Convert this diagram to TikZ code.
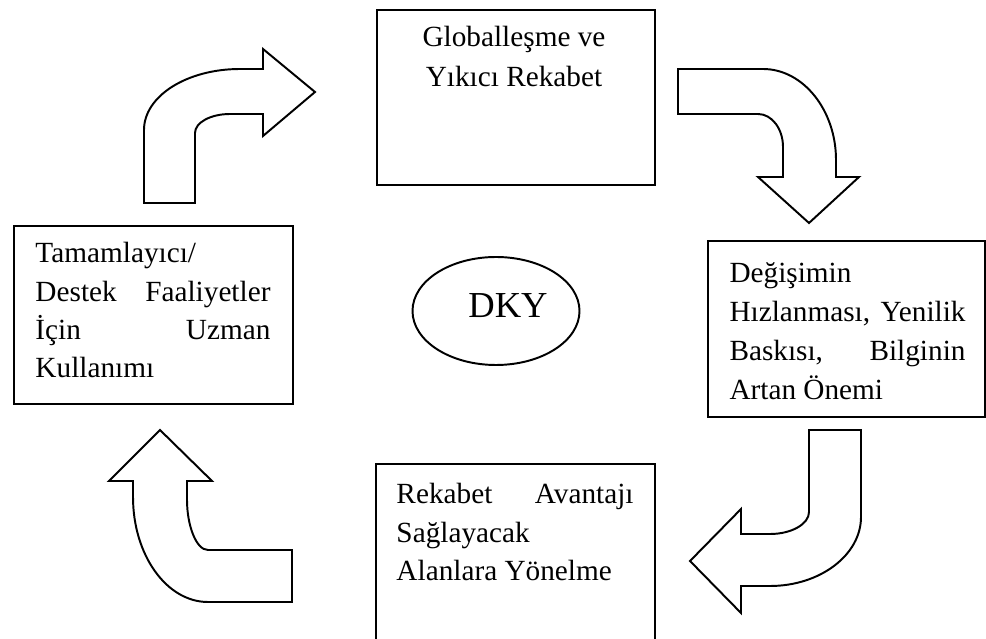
\documentclass[tikz,border=0pt]{standalone}
\usepackage{fontspec}
\setmainfont{Liberation Serif}
\usetikzlibrary{shapes.geometric}
\newlength\pxu
\setlength\pxu{0.41pt}
\newcommand{\jline}[2]{\makebox[#1\pxu][s]{#2}}
\begin{document}
\begin{tikzpicture}[x=0.41pt, y=-0.41pt,
  box/.style={draw, line width=0.8pt, rectangle, inner sep=0pt, anchor=north west},
  txt/.style={inner sep=0pt, anchor=base west, font=\fontsize{12}{14}\selectfont},
  ctxt/.style={inner sep=0pt, anchor=base, font=\fontsize{12}{14}\selectfont},
  bigarrow/.style={draw, fill=white, line width=0.8pt, line join=miter}]
\useasboundingbox (0,0) rectangle (986,639);

% boxes
\node[box, minimum width=278\pxu, minimum height=175\pxu] (topbox) at (376,9) {};
\node[box, minimum width=277\pxu, minimum height=176\pxu] (rightbox) at (707,240) {};
\node[box, minimum width=279\pxu, minimum height=178\pxu] (leftbox) at (13,225) {};
\node[box, minimum width=279\pxu, minimum height=187\pxu] (bottombox) at (375,463) {};

% centre ellipse
\node[draw, ellipse, line width=0.8pt, inner sep=0pt,
      minimum width=167\pxu, minimum height=108\pxu] (dkyring) at (496,311) {};
\node[inner sep=0pt, anchor=base, font=\fontsize{15}{18}\selectfont] (dky) at (508,318) {DKY};

% texts
\node[ctxt] (t1) at (514,47) {Globalleşme ve};
\node[ctxt] (t2) at (514,87) {Yıkıcı Rekabet};

\node[txt] (r1) at (729,283) {Değişimin};
\node[txt] (r2) at (729,322) {\jline{236}{Hızlanması, Yenilik}};
\node[txt] (r3) at (729,361) {\jline{236}{Baskısı, Bilginin}};
\node[txt] (r4) at (729,400) {Artan Önemi};

\node[txt] (b1) at (396,503) {\jline{237}{Rekabet Avantajı}};
\node[txt] (b2) at (396,542) {Sağlayacak};
\node[txt] (b3) at (396,580) {Alanlara Yönelme};

\node[txt] (l1) at (35,263) {Tamamlayıcı/};
\node[txt] (l2) at (35,302) {\jline{235}{Destek Faaliyetler}};
\node[txt] (l3) at (35,340) {\jline{235}{İçin Uzman}};
\node[txt] (l4) at (35,378) {Kullanımı};

% bent block arrows
\draw[bigarrow] (144,203) -- (195,203) -- (195,133)
  .. controls (195,122.5) and (210.7,114) .. (230,114)
  -- (263,114) -- (263,136) -- (315,92) -- (263,49) -- (263,69) -- (240,69)
  .. controls (187,69) and (144,96) .. (144,130) -- cycle;

\draw[bigarrow] (678,69) -- (763,69)
  .. controls (803,69) and (836,110) .. (836,160)
  -- (836,177) -- (859,177) -- (809,223) -- (758,177) -- (783,177) -- (783,147)
  .. controls (783,129) and (772,114) .. (758,114)
  -- (678,114) -- cycle;

\draw[bigarrow] (809,430) -- (861,430) -- (861,517)
  .. controls (861,555) and (820,586) .. (770,586)
  -- (741,586) -- (741,613) -- (690,561) -- (741,509) -- (741,534) -- (770,534)
  .. controls (791.5,534) and (809,524) .. (809,512)
  -- cycle;

\draw[bigarrow] (160,430) -- (212,481) -- (187,481) -- (187,500)
  .. controls (187,525) and (196,550) .. (208,550)
  -- (292,550) -- (292,602) -- (208,602)
  .. controls (166.6,602) and (133,555) .. (133,497)
  -- (133,481) -- (109,481) -- cycle;
\end{tikzpicture}
\end{document}
